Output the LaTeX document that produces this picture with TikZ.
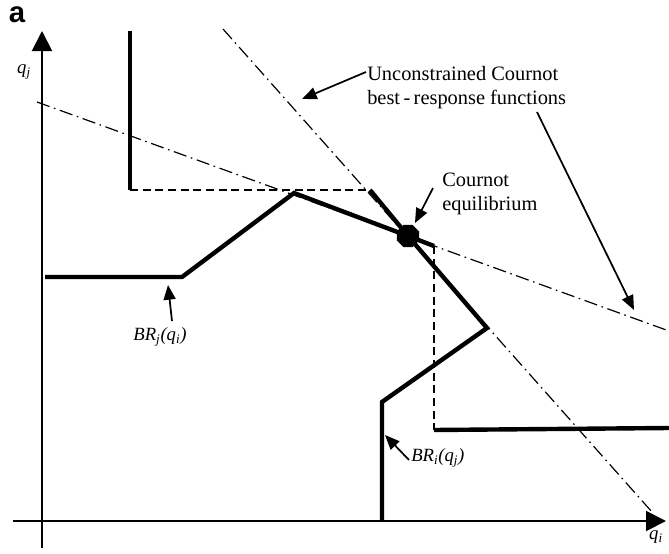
\documentclass[tikz,border=0pt]{standalone}
\usepackage{fontspec}
\setmainfont{Liberation Serif}
\newfontfamily\labfont{Liberation Sans}
\usetikzlibrary{arrows.meta,shapes.geometric}
\tikzset{
  axis/.style={line width=1.5pt,-{Triangle[length=15pt,width=15pt]}},
  thick br/.style={line width=3.3pt,line join=miter},
  dashbr/.style={line width=1.3pt,dash pattern=on 6pt off 3.5pt},
  dashdot/.style={line width=0.9pt,dash pattern=on 10pt off 3.5pt on 1.2pt off 3.5pt},
  callout/.style={line width=1.3pt,-{Triangle[length=11pt,width=9pt]}},
  txt/.style={font=\fontsize{15.3}{18}\selectfont,inner sep=0pt,align=left},
  lab/.style={font=\fontsize{14}{15}\selectfont\itshape,inner sep=0pt},
  eqpt/.style={regular polygon,regular polygon sides=8,fill=black,minimum size=18pt,inner sep=0pt}
}
\begin{document}
\begin{tikzpicture}[x=0.75pt,y=-0.75pt]
\useasboundingbox (0,0) rectangle (669,554);
% panel label
\node[font=\labfont\bfseries\fontsize{22}{24}\selectfont,inner sep=0pt] (panel) at (17,15) {a};
% axes
\coordinate (yb) at (42,548);
\coordinate (yt) at (42,31);
\coordinate (xl) at (13,521);
\coordinate (xr) at (666,521);
\draw[axis] (yb) -- (yt);
\draw[axis] (xl) -- (xr);
\node[lab] (qj) at (24,72) {q\textsubscript{j}};
\node[lab] (qi) at (656,537) {q\textsubscript{i}};
% unconstrained best responses
\coordinate (s1) at (223,29);
\coordinate (s2) at (652,512);
\coordinate (h1) at (37,102);
\coordinate (h2) at (669,331);
\draw[dashdot] (s1) -- (s2);
\draw[dashdot] (h1) -- (h2);
% BR_j
\coordinate (j1) at (45,277);
\coordinate (j2) at (182,277);
\coordinate (j3) at (294,193);
\coordinate (j4) at (434,246);
\coordinate (j5) at (434,430);
\coordinate (j6) at (669,428);
\coordinate (E0) at (408,236);
\draw[thick br] (j1) -- (j2) -- (j3) -- (E0) -- (j4);
\draw[dashbr] (j4) -- (j5);
\draw[thick br] (j5) -- (j6);
% BR_i
\coordinate (i1) at (130,31);
\coordinate (i2) at (130,190);
\coordinate (i3) at (370,190);
\coordinate (i4) at (487,328);
\coordinate (i5) at (382,402);
\coordinate (i6) at (382,521);
\draw[thick br] (i1) -- (i2);
\draw[dashbr] (i2) -- (i3);
\draw[thick br] (i3) -- (E0) -- (i4) -- (i5) -- (i6);
% equilibrium
\node[eqpt] (E) at (E0) {};
% texts
\node[txt,anchor=west] (unc) at (367,88) {Unconstrained Cournot\\best\,-\,response functions};
\node[txt,anchor=west] (ce) at (442,194) {Cournot\\equilibrium};
\node[lab] (brj) at (160,337) {BR\textsubscript{j}(q\textsubscript{i})};
\node[lab,anchor=west] (bri) at (411,458) {BR\textsubscript{i}(q\textsubscript{j})};
% callouts
\coordinate (u1) at (366,72);
\coordinate (u1t) at (302,99);
\coordinate (u2) at (537,112);
\coordinate (u2t) at (634,310);
\coordinate (c1) at (433,188);
\coordinate (c1t) at (415,223);
\coordinate (b1) at (172,321);
\coordinate (b1t) at (168,285);
\coordinate (b2) at (409,460);
\coordinate (b2t) at (385,435);
\draw[callout] (u1) -- (u1t);
\draw[callout] (u2) -- (u2t);
\draw[callout] (c1) -- (c1t);
\draw[callout] (b1) -- (b1t);
\draw[callout] (b2) -- (b2t);
\end{tikzpicture}
\end{document}
